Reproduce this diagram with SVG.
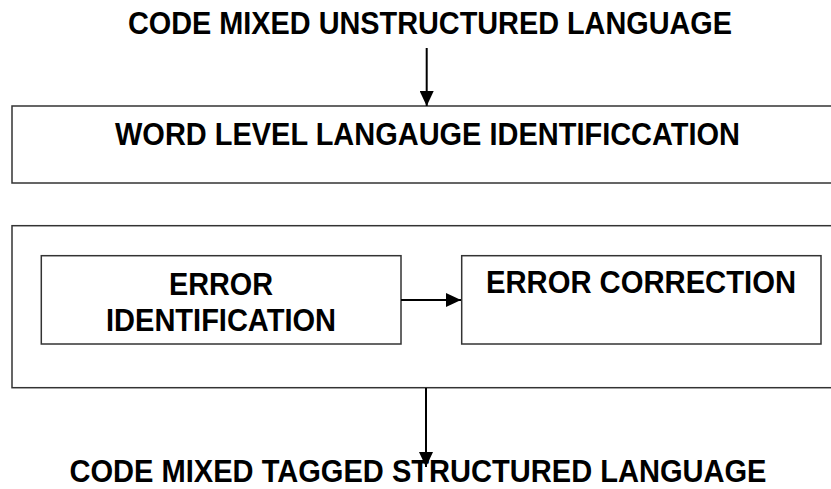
<svg xmlns="http://www.w3.org/2000/svg" width="831" height="489" viewBox="0 0 831 489">
<style>
.box{fill:#fff;stroke:#333;stroke-width:1.5}
.t{font-family:"Liberation Sans",Arial,sans-serif;font-weight:bold;font-size:32px;fill:#000;text-anchor:middle}
.c{stroke:#000;stroke-width:2;fill:none}
</style>
<defs>
<marker id="ah" markerWidth="15" markerHeight="14" refX="15" refY="7" orient="auto" markerUnits="userSpaceOnUse">
<path d="M0,0 L15,7 L0,14 Z" fill="#000"/>
</marker>
</defs>
<rect width="831" height="489" fill="#fff"/>
<g id="input">
<text class="t" x="430" y="34" textLength="604" lengthAdjust="spacingAndGlyphs">CODE MIXED UNSTRUCTURED LANGUAGE</text>
</g>
<g id="word-level">
<rect class="box" x="12" y="106" width="830" height="77"/>
<text class="t" x="427.5" y="145" textLength="625" lengthAdjust="spacingAndGlyphs">WORD LEVEL LANGAUGE IDENTIFICCATION</text>
</g>
<g id="error-stage">
<rect class="box" x="12" y="225.7" width="830" height="162"/>
</g>
<g id="error-identification">
<rect class="box" x="41.3" y="255.7" width="359.7" height="88.3"/>
<text class="t" x="221" y="295" textLength="104" lengthAdjust="spacingAndGlyphs">ERROR</text>
<text class="t" x="221" y="331" textLength="230" lengthAdjust="spacingAndGlyphs">IDENTIFICATION</text>
</g>
<g id="error-correction">
<rect class="box" x="461.7" y="255.7" width="359.3" height="88.3"/>
<text class="t" x="641" y="293" textLength="310" lengthAdjust="spacingAndGlyphs">ERROR CORRECTION</text>
</g>
<g id="output">
<text class="t" x="418" y="482" textLength="697" lengthAdjust="spacingAndGlyphs">CODE MIXED TAGGED STRUCTURED LANGUAGE</text>
</g>
<g id="connectors">
<line class="c" x1="426.7" y1="48" x2="426.7" y2="106" marker-end="url(#ah)"/>
<line class="c" x1="401" y1="300" x2="461" y2="300" marker-end="url(#ah)"/>
<line class="c" x1="426" y1="388" x2="426" y2="467" marker-end="url(#ah)"/>
</g>
</svg>
